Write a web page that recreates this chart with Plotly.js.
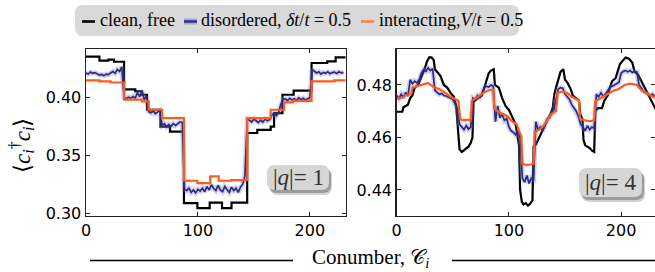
<!DOCTYPE html>
<html><head><meta charset="utf-8">
<script src="https://cdn.plot.ly/plotly-3.0.1.min.js"></script>
<style>html,body{margin:0;padding:0;background:#fff}#chart{width:655px;height:272px}</style>
</head><body><div id="chart"></div>
<script>
// ---------- DATA ----------
// |q| = 1 panel
const cleanQ1X = [0, 12, 20, 25, 34, 44, 50, 54.5, 66.5, 75, 87.5, 99.5, 110.5, 121.5, 130, 144, 153, 165, 168, 175.5, 185.5, 201.5, 215.5, 223, 232];
const cleanQ1Y = [0.4356, 0.4321, 0.4330, 0.4312, 0.4073, 0.4056, 0.4026, 0.3896, 0.3750, 0.3706, 0.3086, 0.3043, 0.3090, 0.3043, 0.3090, 0.3694, 0.3722, 0.3750, 0.3867, 0.4026, 0.4061, 0.4301, 0.4316, 0.4350, 0.4350];
const interQ1X = [0, 12, 22, 34, 50, 56, 68, 87.5, 99.5, 111, 118.5, 130, 144, 165, 177, 185, 201.5, 222, 232];
const interQ1Y = [0.4151, 0.4142, 0.4132, 0.3983, 0.3969, 0.3896, 0.3824, 0.3280, 0.3260, 0.3318, 0.3280, 0.3285, 0.3824, 0.3896, 0.3960, 0.3972, 0.4142, 0.4151, 0.4151];
const disorderQ1Y = [
 0.4215,0.4205,0.4222,0.4212,0.4218,0.4206,0.4196,0.4202,0.4190,0.4205,
 0.4200,0.4215,0.4228,0.4212,0.4245,0.4228,0.4268,0.4000,0.3992,0.4005,
 0.3995,0.4010,0.3998,0.4045,0.4008,0.4060,0.3985,0.4015,0.3880,0.3870,
 0.3885,0.3862,0.3880,0.3890,0.3760,0.3775,0.3748,0.3768,0.3752,0.3775,
 0.3760,0.3772,0.3790,0.3785,0.3210,0.3195,0.3215,0.3180,0.3200,0.3175,
 0.3205,0.3190,0.3215,0.3185,0.3230,0.3200,0.3245,0.3215,0.3195,0.3240,
 0.3200,0.3185,0.3230,0.3205,0.3180,0.3225,0.3195,0.3215,0.3180,0.3225,
 0.3250,0.3320,0.3810,0.3805,0.3790,0.3815,0.3800,0.3785,0.3805,0.3790,
 0.3815,0.3800,0.3810,0.3850,0.3865,0.3845,0.3870,0.3940,0.3985,0.3990,
 0.3975,0.3995,0.3980,0.3992,0.3978,0.3998,0.3985,0.3995,0.3980,0.3990,
 0.4000,0.4245,0.4230,0.4215,0.4225,0.4205,0.4220,0.4212,0.4225,0.4208,
 0.4218,0.4222,0.4210,0.4225,0.4215,0.4220];

// |q| = 4 panel
const cleanQ4X = [0,5,6,10,12,14,16,19,21,23,25,27,29,31,33,34,36,39,42,45,48,51,53,54.5,56,58,61,64,66,67.5,68.5,72,76,78,80,82,84,86.5,87.5,91,94,97,100,103,106,107.5,109,110,111.5,113,115,117,119,121,122,124,127,130,133,135,137,139,140.5,142,144,146,148.5,150,152,155,157,160,162.5,163.5,165.5,166.5,168,172,174,176,177,179,183,185,188,190,192,195,197,199,202,204,207,210,212,215,218,221,223,226,229,232];
const cleanQ4Y = [0.4698,0.4698,0.4715,0.4725,0.4750,0.4760,0.4790,0.4800,0.4820,0.4840,0.4862,0.4890,0.4905,0.4905,0.4895,0.4860,0.4850,0.4835,0.4800,0.4790,0.4770,0.4755,0.4720,0.4650,0.4555,0.4545,0.4555,0.4565,0.4580,0.4600,0.4735,0.4750,0.4760,0.4790,0.4810,0.4845,0.4855,0.4860,0.4800,0.4790,0.4750,0.4720,0.4705,0.4680,0.4650,0.4610,0.4570,0.4400,0.4355,0.4345,0.4350,0.4340,0.4348,0.4360,0.4566,0.4573,0.4600,0.4625,0.4650,0.4668,0.4690,0.4712,0.4765,0.4790,0.4820,0.4850,0.4860,0.4820,0.4810,0.4785,0.4760,0.4750,0.4740,0.4690,0.4670,0.4590,0.4570,0.4560,0.4550,0.4545,0.4700,0.4712,0.4712,0.4740,0.4760,0.4790,0.4815,0.4825,0.4850,0.4880,0.4895,0.4905,0.4900,0.4885,0.4850,0.4840,0.4815,0.4790,0.4775,0.4750,0.4720,0.4698];
const interQ4X = [0,6,8,13,14,18,22,26,28,31,34,38,42,45,48,52,55,56.5,60,63,66,67,70,74,78,82,86,87,90,95,99,103,107,109,111,112,116,120,122,123,127,131,134,138,142,143.5,148,152,156,160,162.5,163.5,168,172,176,177,182,188,193,198,203,208,214,218,222,226,230,232];
const interQ4Y = [0.4748,0.4752,0.4762,0.4765,0.4790,0.4795,0.4800,0.4805,0.4808,0.4798,0.4790,0.4785,0.4775,0.4765,0.4755,0.4748,0.4740,0.4670,0.4665,0.4668,0.4665,0.4740,0.4750,0.4760,0.4772,0.4780,0.4782,0.4710,0.4700,0.4690,0.4680,0.4660,0.4650,0.4625,0.4605,0.4500,0.4495,0.4498,0.4500,0.4620,0.4630,0.4645,0.4665,0.4690,0.4700,0.4770,0.4775,0.4770,0.4755,0.4745,0.4740,0.4672,0.4665,0.4662,0.4665,0.4738,0.4750,0.4765,0.4778,0.4785,0.4800,0.4805,0.4800,0.4780,0.4770,0.4760,0.4752,0.4750];
const disorderQ4Y = [
 0.4760,0.4748,0.4765,0.4752,0.4772,0.4758,0.4820,0.4805,0.4815,0.4808,
 0.4820,0.4845,0.4858,0.4852,0.4865,0.4855,0.4862,0.4780,0.4772,0.4765,
 0.4768,0.4760,0.4758,0.4755,0.4750,0.4745,0.4725,0.4710,0.4650,0.4640,
 0.4630,0.4645,0.4632,0.4640,0.4750,0.4745,0.4760,0.4752,0.4768,0.4790,
 0.4795,0.4792,0.4800,0.4795,0.4660,0.4720,0.4675,0.4690,0.4665,0.4672,
 0.4640,0.4625,0.4620,0.4610,0.4625,0.4600,0.4445,0.4430,0.4455,0.4425,
 0.4445,0.4440,0.4660,0.4630,0.4640,0.4625,0.4645,0.4670,0.4675,0.4690,
 0.4705,0.4745,0.4785,0.4790,0.4788,0.4765,0.4755,0.4745,0.4725,0.4712,
 0.4700,0.4680,0.4650,0.4640,0.4625,0.4645,0.4630,0.4640,0.4635,0.4765,
 0.4755,0.4770,0.4758,0.4765,0.4780,0.4790,0.4795,0.4800,0.4805,0.4810,
 0.4845,0.4852,0.4855,0.4850,0.4855,0.4848,0.4852,0.4850,0.4800,0.4790,
 0.4775,0.4770,0.4765,0.4760,0.4765,0.4755];
// conumber index of the disordered samples (every second site)
const disorderX = disorderQ1Y.map((_, i) => 2 * i);

const legendLabels = ['clean, free', 'disordered, <i>δt</i>/<i>t</i> = 0.5', 'interacting,<i>V</i>/<i>t</i> = 0.5'];
const panelLabels = ['|<i>q</i>|= 1', '|<i>q</i>|= 4'];
const xTicks = [0, 100, 200];
const yTicksQ1 = [0.30, 0.35, 0.40];
const yTicksQ4 = [0.44, 0.46, 0.48];

// ---------- STYLE ----------
const W = 655, H = 272;
const C_CLEAN = '#000000', C_DIS = '#2b2b80', C_BAND = 'rgba(120,120,205,0.35)', C_INT = '#ff5a1a';
const X = v => v / W, Y = v => 1 - v / H;
function rr(x0, y0, x1, y1, r) {
  const f = v => (v / W).toFixed(5), g = v => (1 - v / H).toFixed(5);
  return `M${f(x0 + r)},${g(y0)} L${f(x1 - r)},${g(y0)} Q${f(x1)},${g(y0)} ${f(x1)},${g(y0 + r)} ` +
         `L${f(x1)},${g(y1 - r)} Q${f(x1)},${g(y1)} ${f(x1 - r)},${g(y1)} L${f(x0 + r)},${g(y1)} ` +
         `Q${f(x0)},${g(y1)} ${f(x0)},${g(y1 - r)} L${f(x0)},${g(y0 + r)} Q${f(x0)},${g(y0)} ${f(x0 + r)},${g(y0)} Z`;
}

function panel(xa, ya, cx, cy, ix, iy, dy) {
  return [
    {x: cx, y: cy, xaxis: xa, yaxis: ya, mode: 'lines', line: {color: C_CLEAN, width: 2.2, shape: 'linear'}, showlegend: false, hoverinfo: 'skip'},
    {x: disorderX, y: dy, xaxis: xa, yaxis: ya, mode: 'lines', line: {color: C_BAND, width: 5}, showlegend: false, hoverinfo: 'skip'},
    {x: disorderX, y: dy, xaxis: xa, yaxis: ya, mode: 'lines', line: {color: C_DIS, width: 1.7}, showlegend: false, hoverinfo: 'skip'},
    {x: ix, y: iy, xaxis: xa, yaxis: ya, mode: 'lines', line: {color: C_INT, width: 2.2}, showlegend: false, hoverinfo: 'skip'}
  ];
}
const t1 = panel('x', 'y', cleanQ1X, cleanQ1Y, interQ1X, interQ1Y, disorderQ1Y);
t1[0].line.shape = 'hv'; t1[3].line.shape = 'hv';
const t4 = panel('x2', 'y2', cleanQ4X, cleanQ4Y, interQ4X, interQ4Y, disorderQ4Y);
const data = t1.concat(t4);

const tickFont = {family: 'DejaVu Sans', size: 16, color: '#000'};
const axBase = {showline: true, linecolor: '#222', linewidth: 1.5, mirror: 'ticks', ticks: 'inside', ticklen: 4, tickwidth: 1, tickcolor: '#222',
  showgrid: false, zeroline: false, tickfont: tickFont};
const yDom = [Y(215.7), Y(49.3)];

const serif = 'Liberation Serif';
const shapes = [
  // legend frame
  {type: 'path', xref: 'paper', yref: 'paper', path: rr(75, 5, 519, 36, 8), fillcolor: '#d9d9d9', line: {width: 0}},
  {type: 'line', xref: 'paper', yref: 'paper', x0: X(82), x1: X(95), y0: Y(21.5), y1: Y(21.5), line: {color: C_CLEAN, width: 2.6}},
  {type: 'line', xref: 'paper', yref: 'paper', x0: X(184), x1: X(197), y0: Y(21.5), y1: Y(21.5), line: {color: 'rgba(120,120,205,0.5)', width: 6}},
  {type: 'line', xref: 'paper', yref: 'paper', x0: X(184), x1: X(197), y0: Y(21.5), y1: Y(21.5), line: {color: C_DIS, width: 2.4}},
  {type: 'line', xref: 'paper', yref: 'paper', x0: X(361), x1: X(374), y0: Y(21.5), y1: Y(21.5), line: {color: '#ff7f45', width: 2.6}},
  // x title rules
  {type: 'line', xref: 'paper', yref: 'paper', x0: X(90), x1: X(293), y0: Y(260.5), y1: Y(260.5), line: {color: '#000', width: 1.5}},
  {type: 'line', xref: 'paper', yref: 'paper', x0: X(452), x1: 1, y0: Y(260.5), y1: Y(260.5), line: {color: '#000', width: 1.5}},
  // |q| boxes with shadows
  {type: 'path', xref: 'paper', yref: 'paper', path: rr(270, 169, 332, 195, 8), fillcolor: 'rgba(0,0,0,0.18)', line: {width: 0}},
  {type: 'path', xref: 'paper', yref: 'paper', path: rr(269, 168, 331, 193, 8), fillcolor: 'rgba(0,0,0,0.25)', line: {width: 0}},
  {type: 'path', xref: 'paper', yref: 'paper', path: rr(267, 165, 329, 190, 8), fillcolor: '#d6d6d6', line: {width: 0}},
  {type: 'path', xref: 'paper', yref: 'paper', path: rr(582, 172, 645, 202, 8), fillcolor: 'rgba(0,0,0,0.18)', line: {width: 0}},
  {type: 'path', xref: 'paper', yref: 'paper', path: rr(581, 171, 644, 200, 8), fillcolor: 'rgba(0,0,0,0.25)', line: {width: 0}},
  {type: 'path', xref: 'paper', yref: 'paper', path: rr(579, 168, 642, 197, 8), fillcolor: '#d6d6d6', line: {width: 0}}
];

const ann = (x, y, text, size, extra) => Object.assign({xref: 'paper', yref: 'paper', x: X(x), y: Y(y), text: text, showarrow: false,
  font: {family: serif, size: size, color: '#000'}, xanchor: 'left', yanchor: 'middle'}, extra || {});
const annotations = [
  ann(98, 20.5, legendLabels[0], 18),
  ann(199, 20.5, legendLabels[1], 18),
  ann(377, 20.5, legendLabels[2], 18),
  ann(298, 177.5, panelLabels[0], 23, {xanchor: 'center', font: {family: serif, size: 23, color: '#333'}}),
  ann(610.5, 182.5, panelLabels[1], 23, {xanchor: 'center', font: {family: serif, size: 23, color: '#333'}}),
  ann(370, 258, 'Conumber, 𝒞<sub><i>i</i></sub>', 21, {xanchor: 'center'}),
  ann(21, 146, '⟨<i>c</i><sub><i>i</i></sub><sup>†</sup><i>c</i><sub><i>i</i></sub>⟩', 23, {xanchor: 'center', textangle: -90})
];

const layout = {
  width: W, height: H, margin: {l: 0, r: 0, t: 0, b: 0}, paper_bgcolor: '#fff', plot_bgcolor: '#fff', showlegend: false,
  xaxis: Object.assign({}, axBase, {domain: [X(86), X(345.7)], range: [0, 232], tickvals: xTicks, anchor: 'y'}),
  yaxis: Object.assign({}, axBase, {domain: yDom, range: [0.2977, 0.442], tickvals: yTicksQ1, tickformat: '.2f', anchor: 'x'}),
  xaxis2: Object.assign({}, axBase, {domain: [X(396.7), 1], range: [0, 230.2], tickvals: xTicks, anchor: 'y2'}),
  yaxis2: Object.assign({}, axBase, {domain: yDom, range: [0.4302, 0.4936], tickvals: yTicksQ4, tickformat: '.2f', anchor: 'x2'}),
  shapes: shapes, annotations: annotations
};
Plotly.newPlot('chart', data, layout, {displayModeBar: false, staticPlot: true});
</script></body></html>
